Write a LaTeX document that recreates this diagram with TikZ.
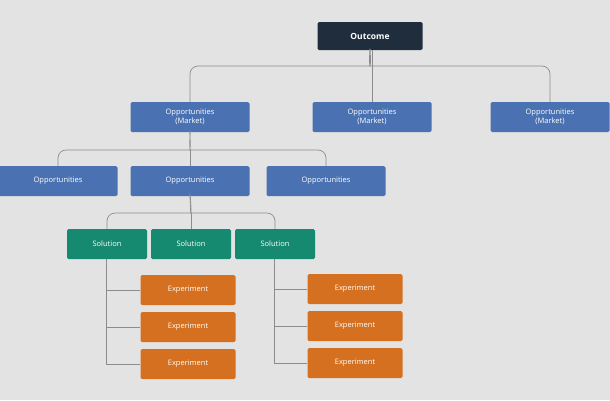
\documentclass[tikz,border=0pt]{standalone}
\usepackage{fontspec}
\setmainfont{Open Sans}
\definecolor{bggray}{HTML}{E3E3E3}
\definecolor{navy}{HTML}{1F2D3D}
\definecolor{oppblue}{HTML}{4A72B2}
\definecolor{solteal}{HTML}{168A70}
\definecolor{exporange}{HTML}{D4701F}
\definecolor{linegray}{HTML}{8C8C8C}
\tikzset{
  box/.style={draw=none,rounded corners=1.5pt,text=white,font=\fontsize{7.5}{8.5}\selectfont,align=center,inner sep=0pt},
  outbox/.style={box,fill=navy,minimum width=105pt,minimum height=28pt,font=\fontsize{8.5}{10}\selectfont\bfseries},
  oppbox/.style={box,fill=oppblue,minimum width=119pt,minimum height=30pt},
  solbox/.style={box,fill=solteal,minimum width=80pt,minimum height=30pt},
  expbox/.style={box,fill=exporange,minimum width=95pt,minimum height=30pt},
  conn/.style={draw=linegray,line width=0.7pt},
}
\begin{document}
\begin{tikzpicture}[x=1pt,y=-1pt]
    \fill[bggray] (0,0) rectangle (610,400);
    \useasboundingbox (0,0) rectangle (610,400);
    % top level
    \node[outbox] (out) at (370,36) {Outcome};
    \node[oppbox] (m1) at (190,117) {Opportunities\\(Market)};
    \node[oppbox] (m2) at (372,117) {Opportunities\\(Market)};
    \node[oppbox] (m3) at (550,117) {Opportunities\\(Market)};
    % second level
    \node[oppbox] (o1) at (58,181) {Opportunities};
    \node[oppbox] (o2) at (190,181) {Opportunities};
    \node[oppbox] (o3) at (326,181) {Opportunities};
    % solutions
    \node[solbox] (s1) at (107,244) {Solution};
    \node[solbox] (s2) at (191,244) {Solution};
    \node[solbox] (s3) at (275,244) {Solution};
    % experiments
    \foreach \i/\y in {1/290,2/327,3/364}
      \node[expbox] (el\i) at (188,\y) {Experiment};
    \foreach \i/\y in {1/289,2/326,3/363}
      \node[expbox] (er\i) at (355,\y) {Experiment};
    % braces
    \draw[conn,rounded corners=8pt] (m1.north) |- (362,66) to[out=0,in=90] (out.south);
    \draw[conn,rounded corners=8pt] (m3.north) |- (378,66) to[out=180,in=90] (out.south);
    \draw[conn] (m2.north) -- (m2.north|-out.south) ++(0,16);
    \draw[conn,rounded corners=8pt] (o1.north) |- (182,150) to[out=0,in=90] (m1.south);
    \draw[conn,rounded corners=8pt] (o3.north) |- (198,150) to[out=180,in=90] (m1.south);
    \draw[conn] (o2.north) -- ++(0,-16);
    \draw[conn,rounded corners=8pt] (s1.north) |- (183,213) to[out=0,in=90] (o2.south);
    \draw[conn,rounded corners=8pt] (s3.north) |- (199,213) to[out=180,in=90] (o2.south);
    \draw[conn] (s2.north) -- ++(0,-16);
    % experiment trees
    \draw[conn] (s1.south-|106,0) |- (el3.west);
    \draw[conn] (106,290) -- (el1.west);
    \draw[conn] (106,327) -- (el2.west);
    \draw[conn] (s3.south-|274,0) |- (er3.west);
    \draw[conn] (274,289) -- (er1.west);
    \draw[conn] (274,326) -- (er2.west);
\end{tikzpicture}
\end{document}
